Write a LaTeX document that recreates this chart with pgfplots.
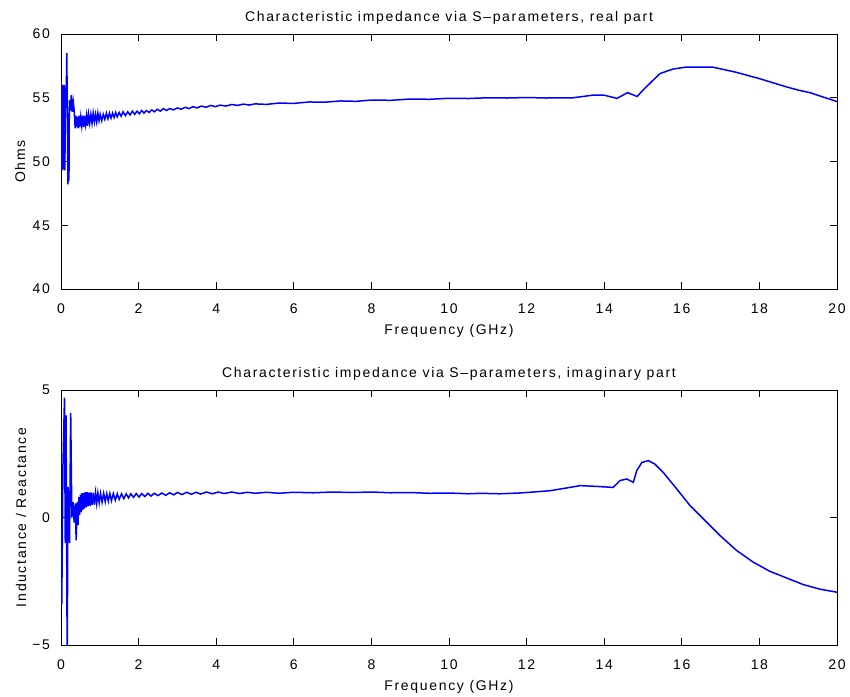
\documentclass[border=0pt]{standalone}
\usepackage{fontspec}
\setmainfont{Liberation Sans}[LetterSpace=12]
\usepackage{pgfplots}
\pgfplotsset{compat=1.18}
\definecolor{mblue}{RGB}{0,0,255}
\pgfplotsset{mlab/.style={
  scale only axis, width=388pt, height=127.5pt,
  xmin=0, xmax=20, xtick={0,2,...,20},
  tick align=inside, major tick length=3.5pt,
  axis line style={line width=0.5pt},
  every tick/.style={black, line width=0.5pt},
  font=\fontsize{7}{8.4}\selectfont,
  /pgf/number format/assume math mode=true,
  xticklabel style={yshift=-4pt},
  yticklabel style={xshift=-2pt},
  title style={at={(axis description cs:0.5,1)}, anchor=south, yshift=-4.5pt},
  xlabel style={at={(axis description cs:0.5,0)}, anchor=north, yshift=-14pt},
  xlabel={Frequency (GHz)},
}}

\begin{document}
\begin{tikzpicture}
\path[use as bounding box] (0,0) rectangle (425pt,-348pt);

% real part
\begin{axis}[mlab, at={(30.5pt,-144.5pt)}, anchor=south west,
  ymin=40, ymax=60, ytick={40,45,...,60},
  ylabel={Ohms},
  ylabel style={at={(axis description cs:-0.0528,0.5)}, anchor=center},
  title={Characteristic impedance via S--parameters, real part}]
\addplot[mblue, line width=0.75pt, no marks] table {
x y
0.000 56.3
0.010 49.4
0.025 56.0
0.040 49.3
0.055 56.0
0.070 49.4
0.085 56.0
0.100 49.3
0.115 55.8
0.130 54.2
0.150 58.5
0.160 54.6
0.180 48.2
0.190 53.8
0.205 48.5
0.215 54.8
0.240 54.0
0.265 55.2
0.290 53.9
0.315 54.7
0.340 54.0
0.365 52.6
0.385 53.6
0.405 52.7
0.425 53.5
0.445 52.6
0.465 53.6
0.485 52.7
0.510 53.5
0.535 52.8
0.560 53.6
0.585 52.7
0.610 53.6
0.635 52.9
0.660 53.6
0.685 52.8
0.710 53.7
0.740 53.0
0.770 53.7
0.800 53.0
0.830 53.8
0.860 53.1
0.890 53.7
0.920 53.1
0.950 53.8
0.980 53.2
1.010 53.7
1.050 53.2
1.090 53.7
1.130 53.3
1.170 53.8
1.210 53.35
1.250 53.8
1.290 53.4
1.330 53.8
1.370 53.45
1.410 53.85
1.450 53.5
1.500 53.85
1.550 53.55
1.600 53.9
1.660 53.6
1.720 53.9
1.780 53.65
1.840 53.95
1.900 53.7
1.960 53.95
2.020 53.75
2.080 54.0
2.140 53.8
2.200 54.0
2.270 53.85
2.340 54.05
2.410 53.9
2.480 54.1
2.560 53.95
2.640 54.15
2.720 54.0
2.800 54.15
2.900 54.05
3.000 54.2
3.100 54.1
3.200 54.25
3.300 54.15
3.400 54.3
3.500 54.2
3.620 54.35
3.740 54.25
3.860 54.4
3.980 54.3
4.100 54.42
4.250 54.35
4.400 54.47
4.550 54.4
4.700 54.5
4.850 54.43
5.000 54.52
5.300 54.48
5.600 54.58
6.000 54.56
6.400 54.67
6.800 54.65
7.200 54.75
7.600 54.72
8.000 54.82
8.500 54.8
9.000 54.9
9.500 54.88
10.000 54.96
10.500 54.94
11.000 55.0
11.500 54.98
12.000 55.02
12.500 54.98
13.200 55.0
13.700 55.2
14.000 55.2
14.330 54.95
14.600 55.4
14.850 55.1
15.000 55.6
15.200 56.2
15.440 56.9
15.770 57.25
16.100 57.4
16.800 57.4
17.400 57.0
18.000 56.5
18.700 55.85
19.000 55.6
19.300 55.4
19.650 55.05
20.000 54.7
};
\end{axis}

% imaginary part
\begin{axis}[mlab, at={(30.5pt,-322.5pt)}, anchor=south west,
  ymin=-5, ymax=5, ytick={-5,0,5}, yticklabels={−5,0,5},
  ylabel={Inductance / Reactance},
  ylabel style={at={(axis description cs:-0.0515,0.5)}, anchor=center},
  title={Characteristic impedance via S--parameters, imaginary part}]
\addplot[mblue, line width=0.75pt, no marks] table {
x y
0.000 -0.5
0.020 -3.4
0.050 2.0
0.090 4.7
0.110 -1.0
0.130 4.0
0.160 -5.6
0.180 1.2
0.220 -1.0
0.250 4.1
0.280 0.0
0.310 0.6
0.340 -0.2
0.370 0.55
0.390 -0.9
0.420 0.6
0.440 -0.3
0.460 0.8
0.480 0.1
0.500 0.9
0.520 0.2
0.540 0.95
0.560 0.3
0.580 0.95
0.600 0.35
0.625 0.99
0.650 0.4
0.675 0.99
0.700 0.45
0.725 0.98
0.750 0.45
0.775 0.98
0.800 0.5
0.830 0.97
0.860 0.5
0.890 0.97
0.920 0.55
0.950 0.96
0.985 0.58
1.020 0.95
1.060 0.6
1.100 0.95
1.140 0.62
1.180 0.94
1.220 0.64
1.260 0.94
1.300 0.66
1.350 0.94
1.400 0.68
1.450 0.93
1.500 0.71
1.560 0.93
1.620 0.74
1.680 0.93
1.740 0.77
1.800 0.93
1.870 0.79
1.940 0.94
2.010 0.8
2.080 0.94
2.160 0.82
2.240 0.95
2.320 0.84
2.400 0.95
2.500 0.86
2.600 0.96
2.700 0.87
2.800 0.97
2.900 0.89
3.000 0.98
3.120 0.9
3.240 0.99
3.360 0.91
3.480 0.99
3.600 0.92
3.750 1.0
3.900 0.93
4.050 1.0
4.200 0.94
4.400 1.0
4.600 0.94
4.800 0.99
5.000 0.95
5.300 0.99
5.600 0.95
6.000 0.99
6.500 0.97
7.000 1.0
7.500 0.98
8.000 1.0
8.500 0.97
9.000 0.98
9.500 0.95
10.000 0.96
10.500 0.93
10.800 0.95
11.300 0.93
11.800 0.96
12.090 0.99
12.600 1.05
13.000 1.15
13.380 1.25
13.800 1.22
14.230 1.18
14.410 1.45
14.580 1.51
14.750 1.38
14.840 1.84
14.970 2.16
15.140 2.23
15.300 2.1
15.520 1.77
15.870 1.12
16.210 0.47
16.600 -0.12
16.980 -0.70
17.410 -1.29
17.840 -1.75
18.270 -2.11
18.700 -2.37
19.130 -2.63
19.560 -2.81
20.000 -2.93
};
\end{axis}
\end{tikzpicture}
\end{document}
